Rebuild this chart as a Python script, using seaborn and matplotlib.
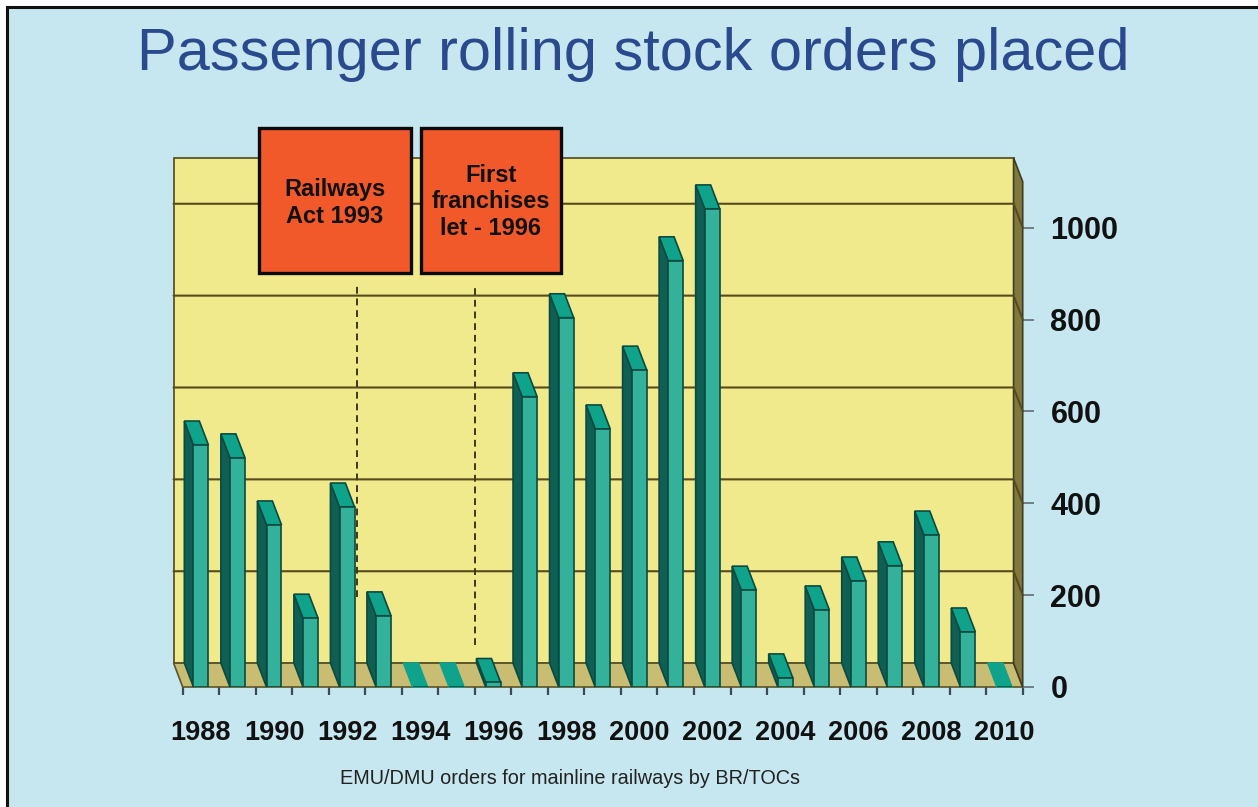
import numpy as np
import pandas as pd
import matplotlib
matplotlib.use('Agg')
import matplotlib.pyplot as plt
from matplotlib.patches import Rectangle
import seaborn as sns

years = list(range(1988, 2011))
orders = [527, 499, 353, 150, 392, 155, 0, 0, 10, 632, 804, 562, 690, 928, 1041, 211, 20, 168, 231, 264, 331, 120, 0]
y_ticks = [0, 200, 400, 600, 800, 1000]
grid_vals = [200, 400, 600, 800, 1000]
notes = ['Railways\nAct 1993', 'First\nfranchises\nlet - 1996']
note_lines_x = [4.26, 7.5]
note_lines_y = [[196, 876], [91, 876]]

W, H = 1258, 807
depth_x = -0.25
depth_y = 52
top = 1100

sns.set_theme(style='white')
plt.rcParams['font.family'] = ['Liberation Sans', 'DejaVu Sans']

fig = plt.figure(figsize=(W / 100, H / 100), dpi=100, facecolor='white')
fig.patches.append(Rectangle((7 / W, -0.1), 1.2, 1 - 7 / H + 0.1, transform=fig.transFigure,
                             facecolor='#c6e6f0', edgecolor='#111111', lw=2.2, zorder=-1))

ax = fig.add_axes([182.7 / W, 1 - 687 / H, 840 / W, 505.3 / H])
ax.patch.set_visible(False)

df = pd.DataFrame({'year': [str(y) for y in years], 'orders': orders})
sns.barplot(data=df, x='year', y='orders', color='#33b19b', saturation=1, width=0.41,
            edgecolor='#0b4a40', linewidth=1.2, zorder=4, ax=ax)
ax.set_xlim(-0.5, len(years) - 0.5)
ax.set_ylim(0, top)
left, right = ax.get_xlim()
bars = list(ax.containers[0])

# walls and floor
wall_kw = dict(clip_on=False, lw=1.3, edgecolor='#5a5428')
ax.fill([left + depth_x, right + depth_x, right + depth_x, left + depth_x],
        [depth_y, depth_y, top + depth_y, top + depth_y], facecolor='#f1ea8c', zorder=1, **wall_kw)
ax.fill([left, right, right + depth_x, left + depth_x], [0, 0, depth_y, depth_y],
        facecolor='#c9bd74', zorder=2, clip_on=False, lw=1.2, edgecolor='#5a5428')
ax.fill([right, right, right + depth_x, right + depth_x], [0, top, top + depth_y, depth_y],
        facecolor='#80793f', zorder=2, clip_on=False, lw=1.2, edgecolor='#3f3c20')
for v in grid_vals:
    ax.plot([left + depth_x, right + depth_x, right], [v + depth_y, v + depth_y, v],
            color='#574a1c', lw=1.5, zorder=2, clip_on=False)

# 3d sides of the bars
for bar in bars:
    x0, x1, h = bar.get_x(), bar.get_x() + bar.get_width(), bar.get_height()
    if h > 0:
        ax.fill([x0, x0, x0 + depth_x, x0 + depth_x], [0, h, h + depth_y, depth_y],
                facecolor='#0f5f54', edgecolor='#0b4a40', lw=1.2, zorder=3.5, clip_on=False)
    ax.fill([x0, x1, x1 + depth_x, x0 + depth_x], [h, h, h + depth_y, h + depth_y],
            facecolor='#10a38c', edgecolor='#0b4a40' if h > 0 else '#10a38c', lw=1.2, zorder=3.6, clip_on=False)

for x, ys in zip(note_lines_x, note_lines_y):
    ax.plot([x, x], ys, color='#3d3a1a', lw=1.4, ls=(0, (3.5, 2.5)), zorder=3)

sns.despine(ax=ax, left=True, bottom=True, right=True, top=True)
ax.set_xlabel('')
ax.set_ylabel('')
ax.set_xticks(range(len(years)), [str(y) if y % 2 == 0 else '' for y in years],
              fontsize=19.5, fontweight='bold', color='#111111')
ax.set_xticks(np.arange(left, right + 0.5), minor=True)
ax.tick_params(axis='x', which='major', length=0, pad=24)
ax.tick_params(axis='x', which='minor', length=5.5, width=1.6, color='#3b4a5a', bottom=True)
ax.yaxis.tick_right()
ax.set_yticks(y_ticks, [str(v) for v in y_ticks], fontsize=22, fontweight='bold', color='#111111')
ax.tick_params(axis='y', length=8, width=1.4, color='#6f7f86', right=True, pad=12)


def px(x, y):
    return x / W, 1 - y / H


# note boxes
for (x0, x1), txt, cy in zip([(259, 411), (421, 561)], notes, [203, 202]):
    fig.add_artist(Rectangle(px(x0, 273), (x1 - x0) / W, 145 / H, transform=fig.transFigure,
                             facecolor='#f2592a', edgecolor='#0a0a0a', lw=2.4, zorder=6))
    fig.text(*px((x0 + x1) / 2, cy), txt, ha='center', va='center', fontsize=17,
             fontweight='bold', color='#111111', linespacing=1.2, zorder=7)

fig.text(*px(633, 55), 'Passenger rolling stock orders placed', ha='center', va='center',
         fontsize=42.8, color='#2b4a8e')
fig.text(*px(570, 779), 'EMU/DMU orders for mainline railways by BR/TOCs', ha='center', va='center',
         fontsize=14.3, color='#222222')

fig.savefig('out.png', dpi=100, facecolor=fig.get_facecolor())
